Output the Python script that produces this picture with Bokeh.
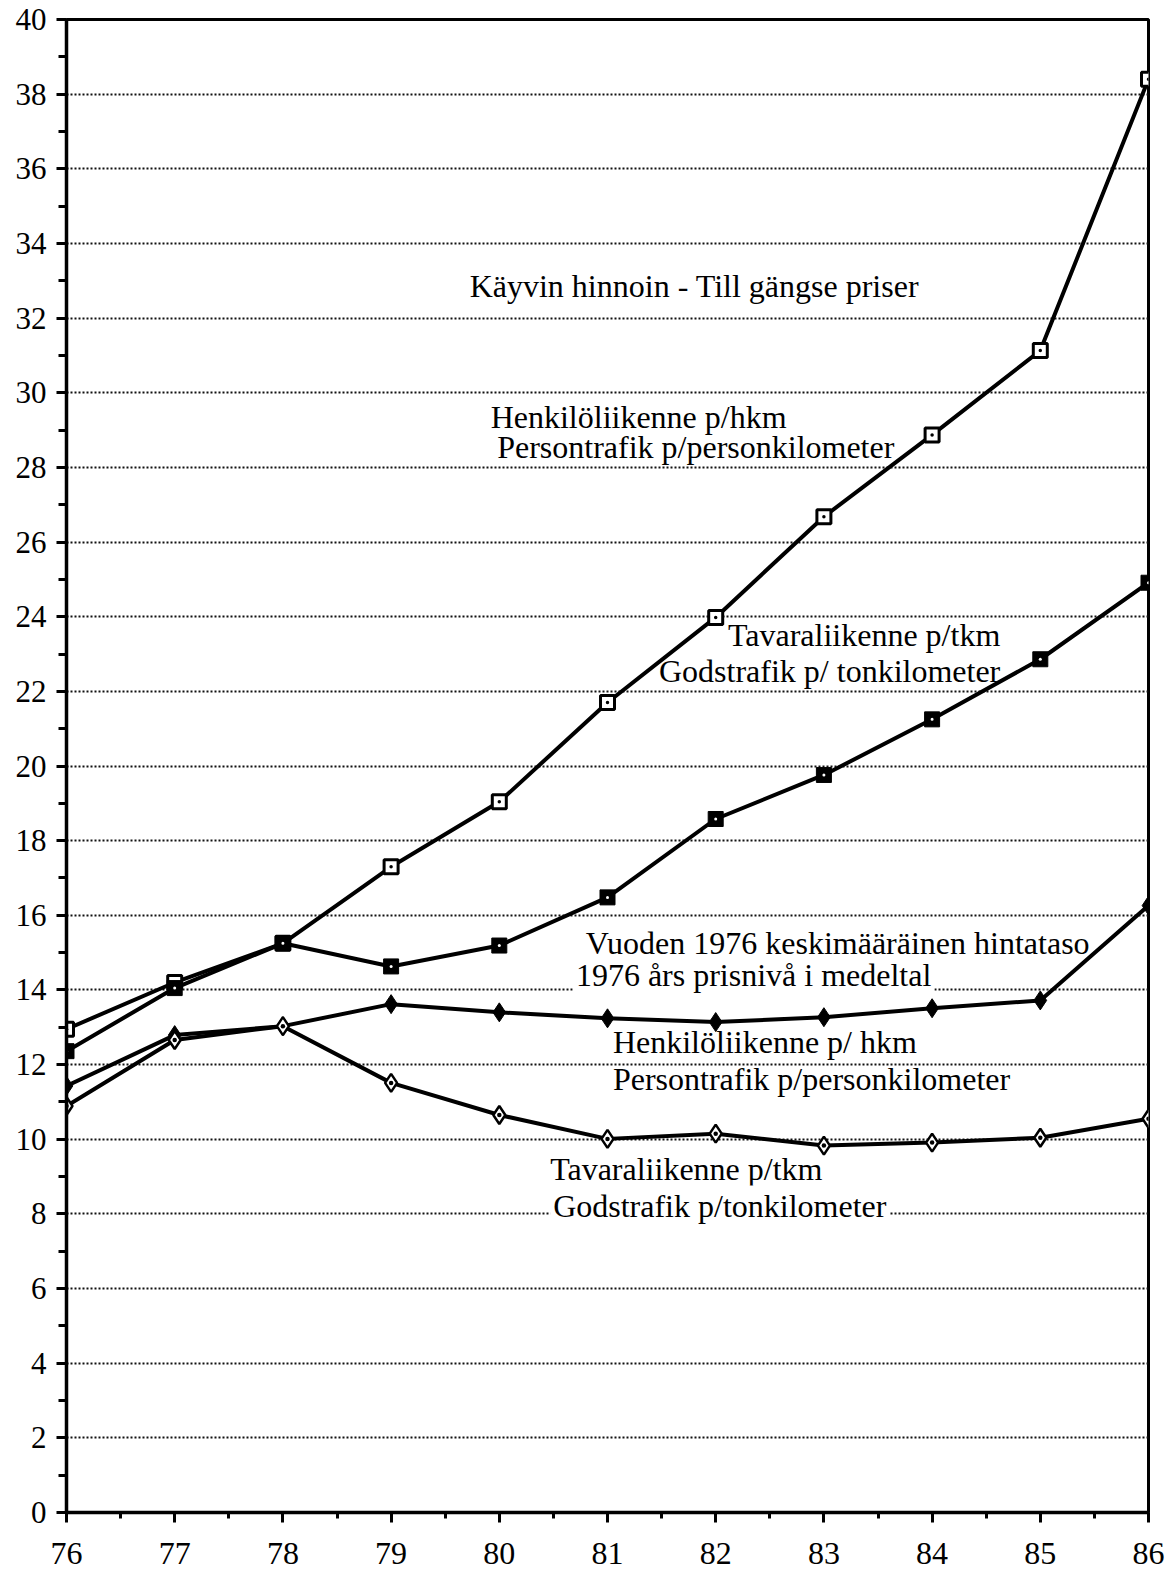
from bokeh.plotting import figure
from bokeh.models import Range1d, FixedTicker, Label
from bokeh.embed import file_html
from bokeh.resources import INLINE

years = [76, 77, 78, 79, 80, 81, 82, 83, 84, 85, 86]
henk_current = [12.95, 14.2, 15.25, 17.3, 19.04, 21.7, 23.98, 26.68, 28.87, 31.13, 38.4]
tava_current = [12.36, 14.05, 15.25, 14.63, 15.19, 16.48, 18.58, 19.76, 21.25, 22.86, 24.91]
henk_1976 = [11.43, 12.79, 13.03, 13.62, 13.4, 13.24, 13.14, 13.27, 13.51, 13.72, 16.26]
tava_1976 = [10.89, 12.66, 13.03, 11.51, 10.65, 10.01, 10.15, 9.83, 9.91, 10.04, 10.55]

y_ticks = list(range(0, 41, 2))
y_minor = list(range(1, 40, 2))
x_minor = [y + 0.5 for y in years[:-1]]

FONT = "Liberation Serif"

p = figure(width=1168, height=1576, output_backend="svg", toolbar_location=None,
           x_range=Range1d(76, 86), y_range=Range1d(0, 40),
           min_border_left=66, min_border_right=20, min_border_top=19, min_border_bottom=64)
p.background_fill_color = "white"
p.border_fill_color = "white"
p.outline_line_color = "black"
p.outline_line_width = 3

p.xgrid.visible = False
p.ygrid.ticker = FixedTicker(ticks=y_ticks)
p.ygrid.grid_line_color = "#111111"
p.ygrid.grid_line_width = 2
p.ygrid.grid_line_dash = "2 2"

for ax in (p.xaxis[0], p.yaxis[0]):
    ax.axis_line_width = 3.5
    ax.axis_line_color = "black"
    ax.major_tick_line_width = 3
    ax.minor_tick_line_width = 3
    ax.major_tick_in = 0
    ax.minor_tick_in = 0
    ax.major_label_text_font = FONT
    ax.major_label_text_color = "black"

p.yaxis.ticker = FixedTicker(ticks=y_ticks, minor_ticks=y_minor)
p.yaxis.major_label_text_font_size = "31px"
p.yaxis.major_tick_out = 10
p.yaxis.minor_tick_out = 8
p.yaxis.major_label_standoff = 10

p.xaxis.ticker = FixedTicker(ticks=years, minor_ticks=x_minor)
p.xaxis.major_label_text_font_size = "32px"
p.xaxis.major_tick_out = 10
p.xaxis.minor_tick_out = 6
p.xaxis.major_label_standoff = 20

# Lines
for ys in (henk_current, tava_current, henk_1976, tava_1976):
    p.line(years, ys, line_color="black", line_width=4)

# Markers
p.scatter(years, henk_current, marker="square_dot", size=14, fill_color="white",
          line_color="black", line_width=3)
p.scatter(years, tava_current, marker="square", size=15, fill_color="black",
          line_color="black", line_width=1)
p.scatter(years, tava_current, marker="circle", size=3, fill_color="white", line_color=None)
p.scatter(years, henk_1976, marker="diamond", size=19, fill_color="black",
          line_color="black", line_width=1)
p.scatter(years, tava_1976, marker="diamond_dot", size=18, fill_color="white",
          line_color="black", line_width=2.5)

def lab(x, y, text, align="left", bg=None):
    kw = dict(x=x, y=y, text=text, text_font=FONT, text_font_size="32px",
              text_color="black", text_align=align, text_baseline="middle")
    if bg:
        kw.update(background_fill_color=bg, padding=3)
    p.add_layout(Label(**kw))

lab(81.84, 32.87, "Käyvin hinnoin  - Till gängse priser", "center")
lab(79.92, 29.35, "Henkilöliikenne p/hkm")
lab(79.98, 28.55, "Persontrafik p/personkilometer")
lab(84.63, 23.5, "Tavaraliikenne p/tkm", "right")
lab(84.63, 22.54, "Godstrafik p/ tonkilometer", "right")
lab(80.80, 15.27, "Vuoden 1976 keskimääräinen hintataso")
lab(80.68, 14.39, "1976 års prisnivå i medeltal", bg="white")
lab(81.05, 12.6, "Henkilöliikenne p/ hkm")
lab(81.05, 11.62, "Persontrafik p/personkilometer")
lab(80.47, 9.19, "Tavaraliikenne p/tkm")
lab(80.47, 8.2, "Godstrafik p/tonkilometer", bg="white")

open("out.html", "w").write(file_html(p, INLINE))
